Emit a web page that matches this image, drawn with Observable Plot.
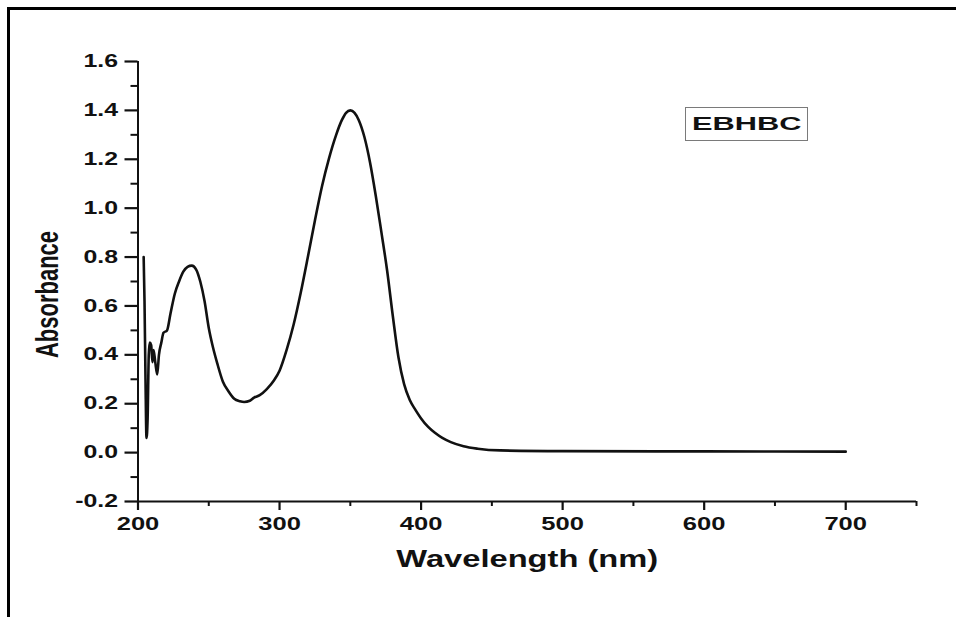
<!DOCTYPE html>
<html><head><meta charset="utf-8">
<script src="https://cdn.jsdelivr.net/npm/d3@7"></script>
<script src="https://cdn.jsdelivr.net/npm/@observablehq/plot@0.6"></script>
<style>
html,body{margin:0;padding:0;background:#fff;}
#wrap{position:relative;width:956px;height:617px;overflow:hidden;background:#fff;}
#wrap svg{position:absolute;left:0;top:0;display:block;}
#frame{position:absolute;left:7px;top:7px;right:0;bottom:0;border-top:3px solid #000;border-left:3px solid #000;pointer-events:none;}
#legend{position:absolute;left:685px;top:107px;width:121px;height:32px;border:1.5px solid #7a7a7a;display:flex;align-items:center;justify-content:center;font-family:"Liberation Sans",Arial,sans-serif;font-weight:bold;font-size:19px;color:#111;}
#legend span{display:inline-block;transform:scaleX(1.62);}
</style></head><body>
<div id="wrap"></div>
<script>
const wavelength = [204.0,204.6,205.3,206.0,206.8,207.6,208.3,209.3,210.2,211.0,212.2,213.6,214.8,216.5,218.0,220.5,223,226,229,232,235,238,241,244,247,250,253,256,260,264,268,272,275,279,282,286,291,296,300,305,310,315,320,325,330,335,340,344,347,350,353,356,360,364,368,372,376,380,384,388,392,396,400,405,410,415,421,430,440,456,500,600,700];
const absorbance = [0.80,0.62,0.30,0.06,0.14,0.40,0.45,0.44,0.37,0.42,0.37,0.32,0.40,0.45,0.49,0.50,0.57,0.65,0.70,0.74,0.76,0.765,0.75,0.70,0.62,0.51,0.43,0.365,0.29,0.25,0.22,0.21,0.207,0.212,0.225,0.235,0.26,0.295,0.335,0.42,0.525,0.655,0.80,0.95,1.09,1.205,1.30,1.36,1.39,1.40,1.39,1.36,1.29,1.185,1.05,0.90,0.745,0.56,0.39,0.28,0.215,0.175,0.14,0.105,0.08,0.06,0.043,0.026,0.016,0.009,0.006,0.005,0.004];
const xTicks = [200,300,400,500,600,700];
const xMinorTicks = [250,350,450,550,650,750];
const yTicks = [-0.2,0.0,0.2,0.4,0.6,0.8,1.0,1.2,1.4,1.6];
const yMinorTicks = [-0.1,0.1,0.3,0.5,0.7,0.9,1.1,1.3,1.5];
const seriesName = "EBHBC";
const xLabel = "Wavelength (nm)";
const yLabel = "Absorbance";

const data = wavelength.map((w, i) => ({w, a: absorbance[i]}));
const FONT = '"Liberation Sans", Arial, sans-serif';

const chart = Plot.plot({
  width: 956,
  height: 617,
  marginLeft: 137.5,
  marginRight: 40,
  marginTop: 61,
  marginBottom: 116,
  style: {fontFamily: FONT, fontWeight: "bold", background: "transparent", color: "#111"},
  x: {domain: [200, 750]},
  y: {domain: [-0.2, 1.6]},
  marks: [
    Plot.axisX({ticks: xTicks, tickSize: 9, tickPadding: 7, stroke: "#111", strokeWidth: 2.2, fill: "#111", fontSize: 18, tickFormat: d => String(d), label: null}),
    Plot.axisY({ticks: yTicks, tickSize: 13, tickPadding: 7, stroke: "#111", strokeWidth: 2.2, fill: "#111", fontSize: 17.5, tickFormat: d => d.toFixed(1), label: null}),
    Plot.axisX({ticks: xMinorTicks, tickSize: 5, stroke: "#111", strokeWidth: 2, tickFormat: () => "", label: null}),
    Plot.axisY({ticks: yMinorTicks, tickSize: 7, stroke: "#111", strokeWidth: 2, tickFormat: () => "", label: null}),
    Plot.ruleY([-0.2], {strokeWidth: 2, stroke: "#111"}),
    Plot.ruleX([200], {strokeWidth: 2, stroke: "#111"}),
    Plot.line(data, {x: "w", y: "a", stroke: "#111", strokeWidth: 2.6, curve: "monotone-x"}),
    Plot.text([xLabel], {frameAnchor: "bottom", textAnchor: "middle", lineAnchor: "middle", dy: 58, fontSize: 23, fill: "#111"}),
    Plot.text([yLabel], {frameAnchor: "left", textAnchor: "middle", lineAnchor: "middle", dx: -90, dy: 13, rotate: -90, fontSize: 22, fill: "#111"})
  ]
});

// horizontal stretch of the glyphs, like the reference
const S = 1.42;
d3.select(chart).selectAll("text").each(function() {
  const t = this.getAttribute("transform");
  if (t && /translate\(/.test(t)) {
    this.setAttribute("transform", t.replace(/(translate\([^)]*\))/, `$1 scale(${S},1)`));
  } else {
    const x = +this.getAttribute("x") || 0, y = +this.getAttribute("y") || 0;
    this.removeAttribute("x"); this.removeAttribute("y");
    this.setAttribute("transform", `translate(${x},${y}) scale(${S},1)` + (t ? " " + t : ""));
  }
});

const wrap = document.getElementById("wrap");
wrap.appendChild(chart);
const frame = document.createElement("div"); frame.id = "frame"; wrap.appendChild(frame);
const legend = document.createElement("div"); legend.id = "legend";
const span = document.createElement("span"); span.textContent = seriesName; legend.appendChild(span);
wrap.appendChild(legend);
</script>
</body></html>
